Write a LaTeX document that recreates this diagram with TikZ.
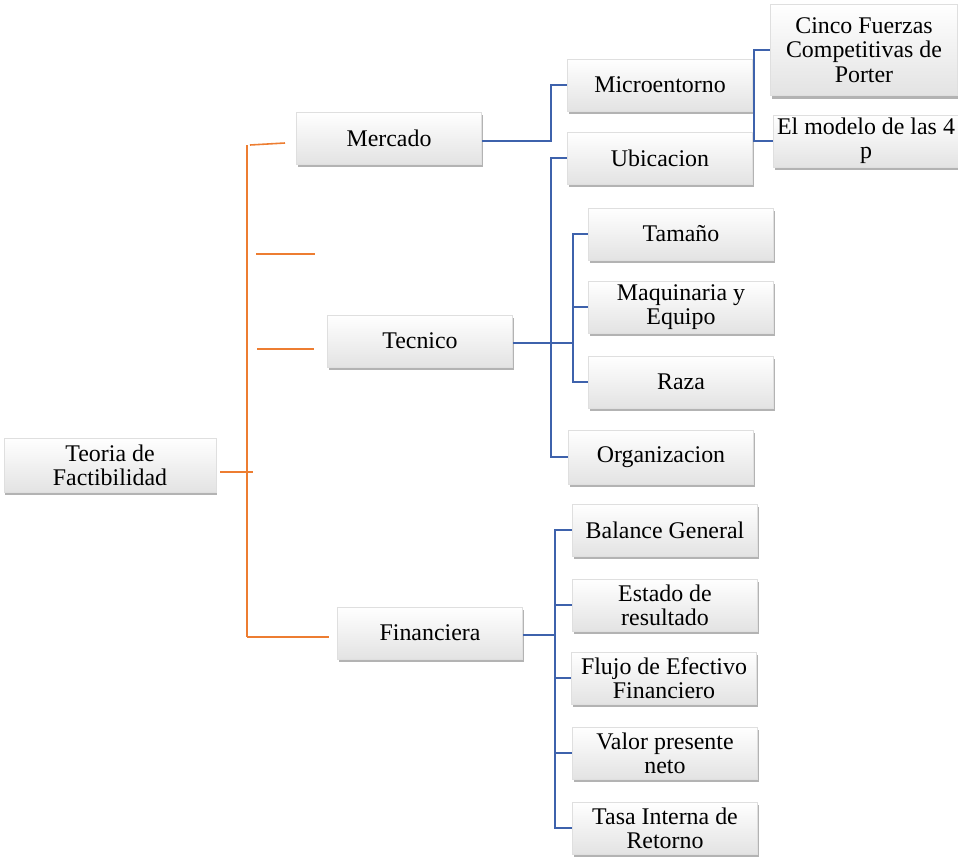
\documentclass[tikz,border=0pt]{standalone}
\usepackage{fontspec}
\newfontfamily\letracaja{Liberation Serif}
\usepackage{tikz}
\usetikzlibrary{shadows}

\definecolor{naranja}{RGB}{237,125,49}
\definecolor{azul}{RGB}{62,98,172}

\tikzset{
    caja/.style={draw=gray!25, top color=white, bottom color=gray!22,
        minimum width=3.7cm, minimum height=1.04cm, align=center,
        inner sep=1pt, font=\letracaja\fontsize{13.6}{13.8}\selectfont,
        drop shadow={shadow xshift=0.8pt, shadow yshift=-1.8pt, opacity=0.6}},
    linea naranja/.style={naranja, line width=0.9pt},
    linea azul/.style={azul, line width=0.9pt}
}

\begin{document}
\begin{tikzpicture}[x=0.02cm, y=-0.02cm]

    % Marco del dibujo
    \useasboundingbox (0,0) rectangle (958,859);

    % Nodo raiz
    \node[caja, minimum width=4.24cm, minimum height=1.08cm] (teoria) at (110,465) {Teoria de\\Factibilidad};

    % Primer nivel
    \node[caja] (mercado) at (389,138) {Mercado};
    \node[caja] (tecnico) at (420,341) {Tecnico};
    \node[caja] (financiera) at (430,633) {Financiera};

    % Mercado
    \node[caja] (micro) at (660,85) {Microentorno};
    \node[caja, minimum width=3.74cm, minimum height=1.82cm] (porter) at (864,50) {Cinco Fuerzas\\Competitivas de\\Porter};
    \node[caja] (cuatrop) at (866,141) {El modelo de las 4\\p};

    % Tecnico
    \node[caja] (ubicacion) at (660,158) {Ubicacion};
    \node[caja] (tamano) at (681,234) {Tamaño};
    \node[caja] (maquinaria) at (681,307) {Maquinaria y\\Equipo};
    \node[caja] (raza) at (681,382) {Raza};
    \node[caja, minimum height=1.08cm] (organizacion) at (661,457) {Organizacion};

    % Financiera
    \node[caja] (balance) at (665,530) {Balance General};
    \node[caja] (estado) at (665,605) {Estado de\\resultado};
    \node[caja] (flujo) at (664,678) {Flujo de Efectivo\\Financiero};
    \node[caja] (valor) at (665,753) {Valor presente\\neto};
    \node[caja] (tasa) at (665,828) {Tasa Interna de\\Retorno};

    % Lineas naranjas (primer nivel)
    \coordinate (tronco) at (253,472);
    \draw[linea naranja] (teoria.east) ++(4,7) -- (tronco);
    \draw[linea naranja] (247,145) -- (247,637);
    \draw[linea naranja] (250,145) -- (285,143);
    \draw[linea naranja] (256,254) -- (315,254);
    \draw[linea naranja, shorten >=0.26cm] (257,349) -- (tecnico.west |- 0,349);
    \draw[linea naranja, shorten >=0.16cm] (247,637) -- (financiera.west |- 0,637);

    % Mercado -> Microentorno
    \coordinate (bm) at (551,141);
    \draw[linea azul] (mercado.east) ++(0,3) -- (bm) |- (micro.west);

    % Microentorno -> Porter y 4p
    \coordinate (bp) at (754,85);
    \draw[linea azul] (bp) |- (porter.west);
    \draw[linea azul] (bp) |- (cuatrop.west);

    % Tecnico -> hijos
    \coordinate (bt1) at (551,343);
    \coordinate (bt2) at (573,343);
    \draw[linea azul] (tecnico.east) ++(0,2) -- (bt2);
    \draw[linea azul] (bt1) |- (ubicacion.west);
    \draw[linea azul] (bt1) |- (organizacion.west);
    \draw[linea azul] (bt2) |- (tamano.west);
    \draw[linea azul] (bt2) |- (maquinaria.west);
    \draw[linea azul] (bt2) |- (raza.west);

    % Financiera -> hijos
    \coordinate (bf) at (555,635);
    \draw[linea azul] (financiera.east) ++(0,2) -- (bf);
    \foreach \hijo in {balance, estado, flujo, valor, tasa} {
        \draw[linea azul] (bf) |- (\hijo.west);
    }

\end{tikzpicture}
\end{document}
